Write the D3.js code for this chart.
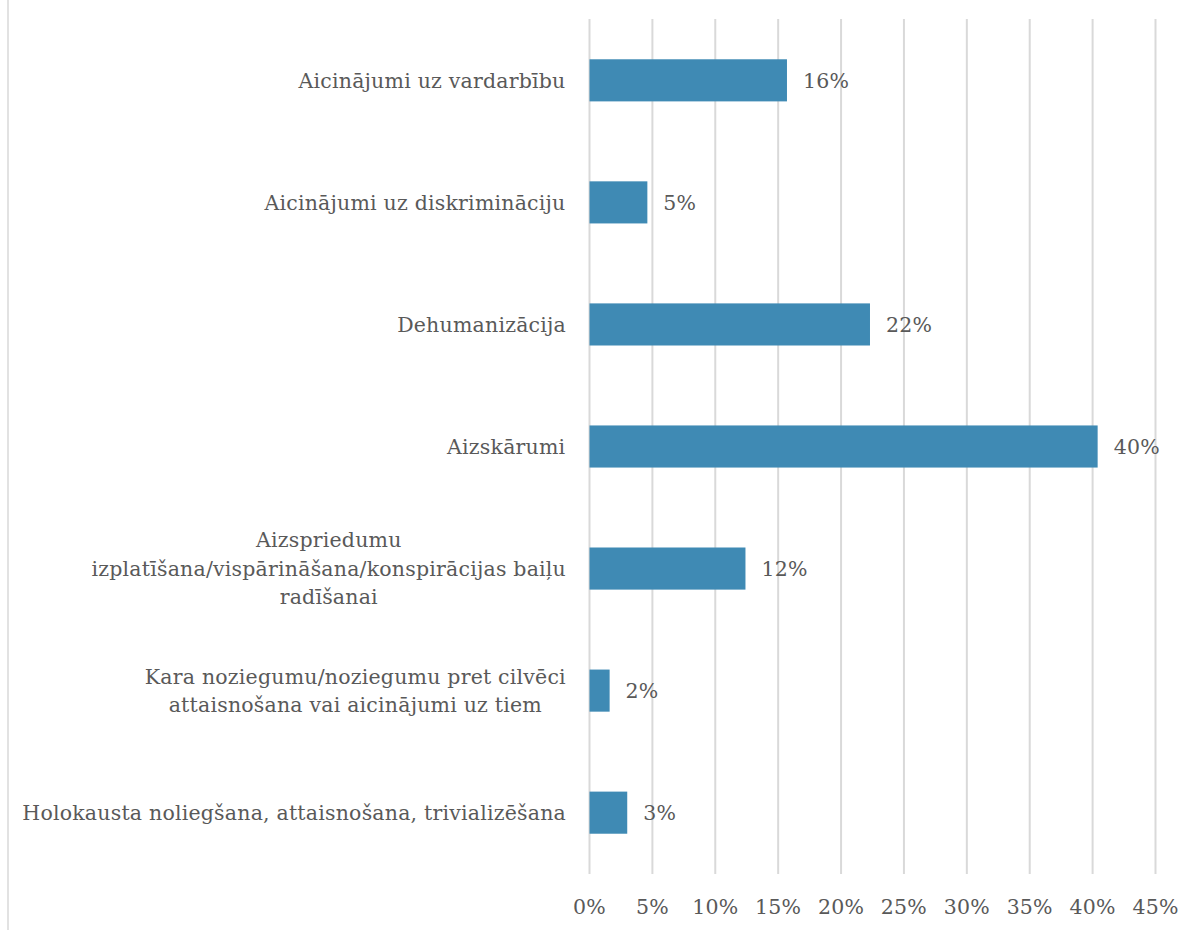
<!DOCTYPE html>
<html><head><meta charset="utf-8">
<script src="https://cdn.jsdelivr.net/npm/d3@7"></script>
<style>html,body{margin:0;padding:0;background:#fff;}</style>
</head><body>
<svg id="chart" width="1195" height="930"></svg>
<script>
const categories = [
  "Aicinājumi uz vardarbību",
  "Aicinājumi uz diskrimināciju",
  "Dehumanizācija",
  "Aizskārumi",
  "Aizspriedumu\nizplatīšana/vispārināšana/konspirācijas baiļu\nradīšanai",
  "Kara noziegumu/noziegumu pret cilvēci\nattaisnošana vai aicinājumi uz tiem",
  "Holokausta noliegšana, attaisnošana, trivializēšana"
];
const values = [15.7, 4.6, 22.3, 40.4, 12.4, 1.6, 3.0];
const valueLabels = ["16%", "5%", "22%", "40%", "12%", "2%", "3%"];
const ticks = [0, 5, 10, 15, 20, 25, 30, 35, 40, 45];

const svg = d3.select("#chart");
const font = "'Palatino Linotype','Book Antiqua',Palatino,'DejaVu Serif',serif";
const fs = 20.5;
const ls = 0.2;
const textColor = "#595959";

svg.append("line").attr("x1", 8).attr("x2", 8).attr("y1", 0).attr("y2", 930)
  .attr("stroke", "#d9d9d9").attr("stroke-width", 1.5);

const x = d3.scaleLinear().domain([0, 45]).range([589.5, 1155.5]);
const y = d3.scaleBand().domain(categories).range([19, 874]).paddingInner(0.655).paddingOuter(0.33);

svg.append("g").selectAll("line").data(ticks).join("line")
  .attr("x1", d => x(d)).attr("x2", d => x(d))
  .attr("y1", 19).attr("y2", 874)
  .attr("stroke", "#d9d9d9").attr("stroke-width", 2);

svg.append("g").selectAll("rect").data(values).join("rect")
  .attr("x", x(0)).attr("y", (d, i) => y(categories[i]))
  .attr("width", d => x(d) - x(0)).attr("height", y.bandwidth())
  .attr("fill", "#3f8ab4");

svg.append("g").selectAll("text").data(values).join("text")
  .attr("x", d => x(d) + 16).attr("y", (d, i) => y(categories[i]) + y.bandwidth() / 2)
  .attr("dy", "0.35em")
  .attr("font-family", font).attr("font-size", fs).attr("letter-spacing", ls).attr("fill", textColor)
  .text((d, i) => valueLabels[i]);

const lh = 28.5;
svg.append("g").selectAll("text").data(categories).join("text")
  .attr("text-anchor", "middle")
  .attr("font-family", font).attr("font-size", fs).attr("letter-spacing", ls).attr("fill", textColor)
  .each(function(d) {
    const lines = d.split("\n");
    const cy = y(d) + y.bandwidth() / 2;
    const t = d3.select(this);
    lines.forEach((l, k) => {
      t.append("tspan").attr("x", 0).attr("y", cy + (k - (lines.length - 1) / 2) * lh).attr("dy", "0.35em").text(l);
    });
    const w = this.getBBox().width;
    t.selectAll("tspan").attr("x", 566 - w / 2);
  });

svg.append("g").selectAll("text").data(ticks).join("text")
  .attr("x", d => x(d)).attr("y", 906.5).attr("dy", "0.35em")
  .attr("text-anchor", "middle")
  .attr("font-family", font).attr("font-size", fs).attr("letter-spacing", ls).attr("fill", textColor)
  .text(d => d + "%");
</script>
</body></html>
